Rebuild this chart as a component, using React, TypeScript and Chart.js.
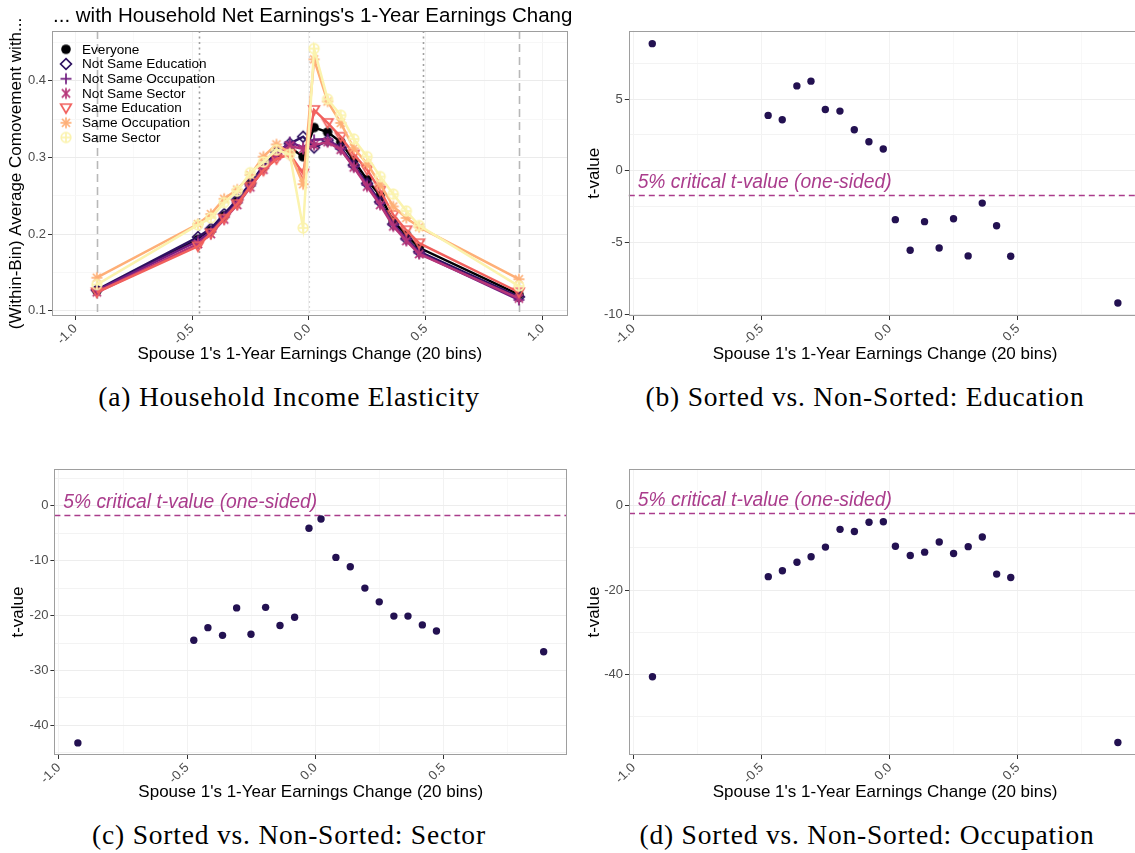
import React, { useEffect, useRef } from "react";
import { Chart, registerables } from "chart.js";
Chart.register(...registerables);

const FONT = "'Liberation Sans', Arial, Helvetica, sans-serif";
const SERIF = "'Liberation Serif', 'Times New Roman', serif";

// ---------- Panel (a) data ----------
const binXA = [-0.908, -0.475, -0.42, -0.363, -0.307, -0.251, -0.195, -0.139, -0.082, -0.025, 0.022, 0.08, 0.136, 0.192, 0.249, 0.305, 0.361, 0.417, 0.472, 0.899];
const seriesNames = ["Everyone", "Not Same Education", "Not Same Occupation", "Not Same Sector", "Same Education", "Same Occupation", "Same Sector"];
const seriesColors = ["#000004", "#2D1160", "#721F81", "#B63679", "#F1605D", "#FEAF77", "#FBF3AE"];
const seriesShapes = ["dot", "diamond", "plus", "asterisk6", "triangleDown", "asterisk8", "circlePlus"];
const everyone = [0.126, 0.193, 0.205, 0.224, 0.243, 0.265, 0.288, 0.305, 0.313, 0.301, 0.339, 0.333, 0.320, 0.296, 0.271, 0.250, 0.217, 0.199, 0.182, 0.121];
const notSameEducation = [0.127, 0.196, 0.207, 0.226, 0.245, 0.266, 0.289, 0.307, 0.318, 0.327, 0.313, 0.322, 0.313, 0.290, 0.266, 0.242, 0.213, 0.194, 0.177, 0.118];
const notSameOccupation = [0.126, 0.191, 0.203, 0.222, 0.241, 0.263, 0.286, 0.304, 0.320, 0.313, 0.323, 0.324, 0.311, 0.288, 0.264, 0.240, 0.212, 0.193, 0.175, 0.114];
const notSameSector = [0.124, 0.187, 0.200, 0.219, 0.238, 0.261, 0.284, 0.302, 0.315, 0.311, 0.316, 0.320, 0.310, 0.287, 0.262, 0.238, 0.210, 0.191, 0.174, 0.116];
const sameEducation = [0.124, 0.184, 0.201, 0.220, 0.239, 0.262, 0.283, 0.298, 0.304, 0.279, 0.362, 0.345, 0.327, 0.304, 0.284, 0.257, 0.225, 0.205, 0.188, 0.124];
const sameOccupation = [0.143, 0.213, 0.226, 0.246, 0.258, 0.277, 0.301, 0.317, 0.306, 0.265, 0.428, 0.373, 0.345, 0.312, 0.292, 0.265, 0.236, 0.221, 0.209, 0.141];
const sameSector = [0.134, 0.212, 0.221, 0.241, 0.256, 0.280, 0.294, 0.310, 0.304, 0.208, 0.442, 0.376, 0.355, 0.324, 0.301, 0.275, 0.252, 0.230, 0.211, 0.132];
const seriesValues = [everyone, notSameEducation, notSameOccupation, notSameSector, sameEducation, sameOccupation, sameSector];
const vlinesDashed = [-0.908, 0.899];
const vlinesDotted = [-0.472, 0.4875];
const vlinesZero = [0];
const titleA = "... with Household Net Earnings's 1-Year Earnings Change";
const yTitleA = "(Within-Bin) Average Comovement with...";
const xTitle = "Spouse 1's 1-Year Earnings Change (20 bins)";

// ---------- t-value panels data ----------
const binXT = [-0.926, -0.474, -0.419, -0.362, -0.307, -0.251, -0.194, -0.138, -0.081, -0.025, 0.022, 0.080, 0.136, 0.193, 0.249, 0.306, 0.361, 0.417, 0.472, 0.890];
const tEducation = [8.85, 3.86, 3.56, 5.91, 6.24, 4.27, 4.16, 2.86, 2.03, 1.52, -3.39, -5.52, -3.53, -5.36, -3.33, -5.91, -2.24, -3.81, -5.94, -9.19];
const tSector = [-43.2, -24.5, -22.2, -23.6, -18.6, -23.4, -18.5, -21.8, -20.3, -4.1, -2.4, -9.4, -11.1, -15.0, -17.5, -20.1, -20.1, -21.7, -22.8, -26.6];
const tOccupation = [-40.5, -16.8, -15.4, -13.4, -12.1, -9.8, -5.6, -6.1, -3.9, -3.8, -9.6, -11.8, -11.0, -8.6, -11.3, -9.7, -7.4, -16.2, -17.0, -56.1];
const criticalT = -1.645;
const criticalLabel = "5% critical t-value (one-sided)";
const criticalLabelX = -0.983;
const captions = [
  "(a) Household Income Elasticity",
  "(b) Sorted vs. Non-Sorted: Education",
  "(c) Sorted vs. Non-Sorted: Sector",
  "(d) Sorted vs. Non-Sorted: Occupation",
];

const CRIT_COLOR = "#AA3C8C";
const DOT_COLOR = "#231151";

const isMult = (v: number, m: number) => Math.abs(v / m - Math.round(v / m)) < 1e-6;
const fmt1 = (v: number) => {
  let r = Math.round(v * 10) / 10;
  if (Math.abs(r) < 1e-9) r = 0;
  return r.toFixed(1);
};

function makeMarker(kind: string, color: string) {
  const size = 16;
  const c = document.createElement("canvas");
  c.width = size;
  c.height = size;
  const g = c.getContext("2d")!;
  const m = size / 2;
  g.strokeStyle = color;
  g.fillStyle = color;
  g.lineWidth = 1.7;
  g.lineCap = "butt";
  const line = (x1: number, y1: number, x2: number, y2: number) => {
    g.beginPath();
    g.moveTo(x1, y1);
    g.lineTo(x2, y2);
    g.stroke();
  };
  if (kind === "dot") {
    g.beginPath();
    g.arc(m, m, 4.8, 0, Math.PI * 2);
    g.fill();
  } else if (kind === "diamond") {
    g.beginPath();
    g.moveTo(m, m - 5.4);
    g.lineTo(m + 5.4, m);
    g.lineTo(m, m + 5.4);
    g.lineTo(m - 5.4, m);
    g.closePath();
    g.stroke();
  } else if (kind === "plus") {
    line(m - 5.5, m, m + 5.5, m);
    line(m, m - 5.5, m, m + 5.5);
  } else if (kind === "asterisk6") {
    const d = 4.1;
    line(m - d, m - d, m + d, m + d);
    line(m - d, m + d, m + d, m - d);
    line(m, m - 5.5, m, m + 5.5);
  } else if (kind === "triangleDown") {
    g.beginPath();
    g.moveTo(m - 5.3, m - 4);
    g.lineTo(m + 5.3, m - 4);
    g.lineTo(m, m + 5);
    g.closePath();
    g.stroke();
  } else if (kind === "asterisk8") {
    const d = 4;
    line(m - d, m - d, m + d, m + d);
    line(m - d, m + d, m + d, m - d);
    line(m, m - 5.5, m, m + 5.5);
    line(m - 5.5, m, m + 5.5, m);
  } else if (kind === "circlePlus") {
    g.beginPath();
    g.arc(m, m, 4.8, 0, Math.PI * 2);
    g.stroke();
    line(m - 4.8, m, m + 4.8, m);
    line(m, m - 4.8, m, m + 4.8);
  }
  return c;
}

function xScale(min: number, max: number, height: number, majorColor: string, minorColor: string) {
  return {
    type: "linear",
    min,
    max,
    afterFit: (s: any) => {
      s.height = height;
    },
    ticks: {
      stepSize: 0.25,
      includeBounds: false,
      autoSkip: false,
      minRotation: 45,
      maxRotation: 45,
      padding: 1,
      color: "#4D4D4D",
      font: { family: FONT, size: 13 },
      callback: (v: any) => (isMult(Number(v), 0.5) ? fmt1(Number(v)) : ""),
    },
    grid: {
      color: (ctx: any) => (ctx.tick && isMult(ctx.tick.value, 0.5) ? majorColor : minorColor),
      tickColor: (ctx: any) => (ctx.tick && isMult(ctx.tick.value, 0.5) ? "#333333" : "rgba(0,0,0,0)"),
      tickLength: 4,
      lineWidth: 1,
    },
    border: { display: false },
    title: {
      display: true,
      text: xTitle,
      color: "#000",
      font: { family: FONT, size: 17 },
      padding: { top: 0, bottom: 0 },
    },
  };
}

function yScale(min: number, max: number, width: number, step: number, labelStep: number, fmt: (v: number) => string, title: string, titlePad: number, majorColor: string, minorColor: string) {
  return {
    type: "linear",
    min,
    max,
    afterFit: (s: any) => {
      s.width = width;
    },
    ticks: {
      stepSize: step,
      includeBounds: false,
      autoSkip: false,
      padding: 2,
      color: "#4D4D4D",
      font: { family: FONT, size: 13 },
      callback: (v: any) => (isMult(Number(v), labelStep) ? fmt(Number(v)) : ""),
    },
    grid: {
      color: (ctx: any) => (ctx.tick && isMult(ctx.tick.value, labelStep) ? majorColor : minorColor),
      tickColor: (ctx: any) => (ctx.tick && isMult(ctx.tick.value, labelStep) ? "#333333" : "rgba(0,0,0,0)"),
      tickLength: 4,
      lineWidth: 1,
    },
    border: { display: false },
    title: {
      display: true,
      text: title,
      color: "#000",
      font: { family: FONT, size: 17 },
      padding: { top: titlePad, bottom: 0 },
    },
  };
}

const borderPlugin = {
  id: "panelBorder",
  afterDatasetsDraw(chart: any) {
    const { ctx, chartArea: a } = chart;
    ctx.save();
    ctx.strokeStyle = "#9E9E9E";
    ctx.lineWidth = 1;
    ctx.strokeRect(Math.round(a.left) + 0.5, Math.round(a.top) + 0.5, Math.round(a.right - a.left) - 1, Math.round(a.bottom - a.top) - 1);
    ctx.restore();
  },
};

function configA() {
  const markers = seriesShapes.map((s, i) => makeMarker(s, seriesColors[i]));
  const datasets = seriesNames.map((name, i) => ({
    label: name,
    data: binXA.map((x, j) => ({ x, y: seriesValues[i][j] })),
    borderColor: seriesColors[i],
    backgroundColor: seriesColors[i],
    borderWidth: 2.5,
    pointStyle: markers[i],
    pointRadius: 5,
    order: seriesNames.length - 1 - i,
    tension: 0,
  }));
  const decoPlugin = {
    id: "decoA",
    beforeDatasetsDraw(chart: any) {
      const { ctx, chartArea: a, scales } = chart;
      const xs = scales.x;
      ctx.save();
      const drawV = (v: number, color: string, dash: number[], w: number) => {
        const px = Math.round(xs.getPixelForValue(v)) + 0.5;
        ctx.strokeStyle = color;
        ctx.lineWidth = w;
        ctx.setLineDash(dash);
        ctx.beginPath();
        ctx.moveTo(px, a.top);
        ctx.lineTo(px, a.bottom);
        ctx.stroke();
      };
      vlinesZero.forEach((v) => drawV(v, "#D9D9D9", [2, 3], 1.2));
      vlinesDotted.forEach((v) => drawV(v, "#A0A0A0", [2, 3.5], 1.6));
      vlinesDashed.forEach((v) => drawV(v, "#B8B8B8", [8, 5], 1.6));
      ctx.restore();
    },
    afterDraw(chart: any) {
      const { ctx, chartArea: a } = chart;
      ctx.save();
      ctx.beginPath();
      ctx.rect(0, 0, 571, 30);
      ctx.clip();
      ctx.fillStyle = "#000";
      ctx.font = `20.5px ${FONT}`;
      ctx.textBaseline = "alphabetic";
      ctx.textAlign = "left";
      ctx.fillText(titleA, a.left + 1, 22);
      ctx.restore();
      // legend
      ctx.save();
      ctx.font = `13.6px ${FONT}`;
      ctx.textBaseline = "middle";
      ctx.textAlign = "left";
      seriesNames.forEach((name, i) => {
        const y = a.top + 18.3 + i * 14.7;
        const mk = markers[i];
        ctx.drawImage(mk, a.left + 14 - mk.width / 2, y - mk.height / 2);
        ctx.fillStyle = "#000";
        ctx.fillText(name, a.left + 30, y + 0.5);
      });
      ctx.restore();
    },
  };
  return {
    type: "line",
    data: { datasets },
    options: {
      responsive: false,
      animation: false,
      layout: { padding: { left: 0, top: 31, right: 7, bottom: 0 } },
      plugins: { legend: { display: false }, tooltip: { enabled: false }, title: { display: false } },
      scales: {
        x: xScale(-1.1, 1.107, 49, "#F3F3F3", "#F9F9F9"),
        y: yScale(0.093, 0.465, 52, 0.05, 0.1, fmt1, yTitleA, 6.5, "#EBEBEB", "#F7F7F7"),
      },
    },
    plugins: [decoPlugin, borderPlugin],
  };
}

function configT(values: number[], yMin: number, yMax: number, step: number, labelStep: number, yWidth: number, titlePad: number, padTop: number, padRight: number, xHeight: number) {
  const critPlugin = {
    id: "crit",
    beforeDatasetsDraw(chart: any) {
      const { ctx, chartArea: a, scales } = chart;
      const py = Math.round(scales.y.getPixelForValue(criticalT)) + 0.5;
      ctx.save();
      ctx.strokeStyle = CRIT_COLOR;
      ctx.lineWidth = 1.5;
      ctx.setLineDash([6, 4]);
      ctx.beginPath();
      ctx.moveTo(a.left, py);
      ctx.lineTo(a.right, py);
      ctx.stroke();
      ctx.setLineDash([]);
      ctx.fillStyle = CRIT_COLOR;
      ctx.font = `italic 19.3px ${FONT}`;
      ctx.textAlign = "left";
      ctx.textBaseline = "alphabetic";
      ctx.fillText(criticalLabel, scales.x.getPixelForValue(criticalLabelX), py - 7.5);
      ctx.restore();
    },
  };
  return {
    type: "scatter",
    data: {
      datasets: [
        {
          label: "t",
          data: binXT.map((x, j) => ({ x, y: values[j] })),
          backgroundColor: DOT_COLOR,
          borderColor: DOT_COLOR,
          borderWidth: 0,
          pointRadius: 3.7,
        },
      ],
    },
    options: {
      responsive: false,
      animation: false,
      layout: { padding: { left: 0, top: padTop, right: padRight, bottom: 0 } },
      plugins: { legend: { display: false }, tooltip: { enabled: false }, title: { display: false } },
      scales: {
        x: xScale(-1.0175, 0.981, xHeight, "#F2F2F2", "#F8F8F8"),
        y: yScale(yMin, yMax, yWidth, step, labelStep, (v) => String(Math.round(v)), "t-value", titlePad, "#EDEDED", "#F3F3F3"),
      },
    },
    plugins: [critPlugin, borderPlugin],
  };
}

export default function App() {
  const refA = useRef<HTMLCanvasElement | null>(null);
  const refB = useRef<HTMLCanvasElement | null>(null);
  const refC = useRef<HTMLCanvasElement | null>(null);
  const refD = useRef<HTMLCanvasElement | null>(null);

  useEffect(() => {
    const charts: Chart[] = [];
    charts.push(new Chart(refA.current as any, configA() as any));
    charts.push(new Chart(refB.current as any, configT(tEducation, -10.09, 9.75, 2.5, 5, 50.8, 5.8, 30.7, 16.8, 49) as any));
    charts.push(new Chart(refC.current as any, configT(tSector, -45.4, 6.7, 5, 10, 54.4, 8.3, 31, 8, 48) as any));
    charts.push(new Chart(refD.current as any, configT(tOccupation, -59.05, 8.7, 10, 20, 51, 5.8, 31, 16.8, 48) as any));
    return () => charts.forEach((c) => c.destroy());
  }, []);

  const capStyle = (center: number, top: number): React.CSSProperties => ({
    position: "absolute",
    left: center - 300,
    top,
    width: 600,
    textAlign: "center",
    fontFamily: SERIF,
    fontSize: 27.5,
    lineHeight: "30px",
    color: "#000",
    whiteSpace: "nowrap",
    letterSpacing: "0.8px",
  });

  return (
    <div style={{ position: "absolute", left: 0, top: 0, width: 1135, height: 853, overflow: "hidden", background: "#fff" }}>
      <canvas ref={refA} width={575} height={365} style={{ position: "absolute", left: 0, top: 0, display: "block" }} />
      <canvas ref={refB} width={580} height={365} style={{ position: "absolute", left: 578, top: 0, display: "block" }} />
      <canvas ref={refC} width={575} height={365} style={{ position: "absolute", left: 0, top: 438, display: "block" }} />
      <canvas ref={refD} width={580} height={365} style={{ position: "absolute", left: 578, top: 438, display: "block" }} />
      <div style={capStyle(289, 382)}>{captions[0]}</div>
      <div style={capStyle(865, 382)}>{captions[1]}</div>
      <div style={capStyle(289, 820)}>{captions[2]}</div>
      <div style={capStyle(867, 820)}>{captions[3]}</div>
    </div>
  );
}
